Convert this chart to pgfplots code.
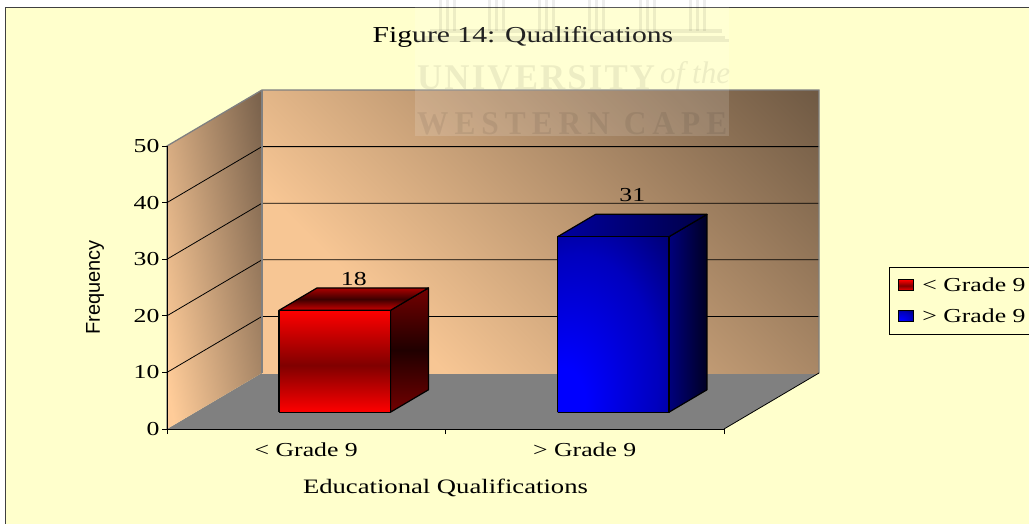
\documentclass[border=0pt]{standalone}
\usepackage{graphicx}
\usepackage{fontspec}
\setmainfont[FakeStretch=1.3]{Liberation Serif}
\setsansfont{Liberation Sans}
\usepackage{pgfplots}
\pgfplotsset{compat=1.18}
\definecolor{chartbg}{RGB}{255,255,204}
\definecolor{floorgray}{RGB}{128,128,128}
\definecolor{peach}{RGB}{247,198,148}
\definecolor{wallbrown}{RGB}{112,90,68}
\definecolor{leftpeach}{RGB}{255,204,153}
\definecolor{leftbrown}{RGB}{122,98,76}
\definecolor{rmid}{RGB}{128,0,0}
\definecolor{rsideend}{RGB}{115,0,0}
\definecolor{rsidemid}{RGB}{32,0,0}
\definecolor{rtopa}{RGB}{205,0,0}
\definecolor{rtopb}{RGB}{60,0,0}
\definecolor{rtopc}{RGB}{170,0,0}
\definecolor{bfa}{RGB}{0,0,255}
\definecolor{bfb}{RGB}{0,0,190}
\definecolor{bfc}{RGB}{0,0,118}
\definecolor{bsa}{RGB}{0,0,125}
\definecolor{bsb}{RGB}{0,0,35}
\definecolor{bta}{RGB}{0,0,160}
\definecolor{btb}{RGB}{0,0,70}
\pgfdeclareverticalshading{backwall}{100bp}{
  color(0bp)=(peach);color(30bp)=(peach);
  color(85bp)=(wallbrown);color(100bp)=(wallbrown)}
\pgfdeclareverticalshading{leftwall}{100bp}{
  color(0bp)=(leftpeach);color(24bp)=(leftpeach);
  color(78bp)=(leftbrown);color(100bp)=(leftbrown)}
\pgfdeclareverticalshading{redfront}{100bp}{
  color(0bp)=(red);color(25bp)=(red);
  color(48bp)=(rmid);
  color(75bp)=(red);color(100bp)=(red)}
\pgfdeclareverticalshading{redside}{100bp}{
  color(0bp)=(rsideend);color(25bp)=(rsideend);
  color(50bp)=(rsidemid);
  color(75bp)=(rsideend);color(100bp)=(rsideend)}
\pgfdeclareverticalshading{redtop}{100bp}{
  color(0bp)=(rtopa);color(25bp)=(rtopa);
  color(50bp)=(rtopb);
  color(75bp)=(rtopc);color(100bp)=(rtopc)}
\pgfdeclareradialshading{bluefront}{\pgfpoint{-25bp}{-25bp}}{
  color(0bp)=(bfa);color(10bp)=(bfa);
  color(36bp)=(bfb);
  color(52bp)=(bfc);color(100bp)=(bfc)}
\pgfdeclarehorizontalshading{blueside}{100bp}{
  color(0bp)=(bsa);color(25bp)=(bsa);
  color(75bp)=(bsb);color(100bp)=(bsb)}
\pgfdeclarehorizontalshading{bluetop}{100bp}{
  color(0bp)=(bta);color(25bp)=(bta);
  color(75bp)=(btb);color(100bp)=(btb)}
\begin{document}
\begin{tikzpicture}[x=1pt,y=1pt]
\useasboundingbox (0,0) rectangle (1029,523);
% page and chart area
\fill[white] (0,0) rectangle (1029,523);
\fill[chartbg] (5.5,-2) rectangle (1035,515);
\draw[black!75,line width=1pt] (5.5,-2) -- (5.5,515) -- (1035,515);
% ---- oblique plot box
\begin{axis}[
  at={(167pt,94pt)},anchor=origin,
  x={(278.5pt,0pt)},y={(95pt,56pt)},z={(0pt,5.66pt)},
  xmin=0,xmax=2,ymin=0,ymax=1,zmin=0,zmax=50,
  hide axis,clip=false]
% walls and floor
\addplot3[draw=none,fill=floorgray] coordinates {(0,0,0)(2,0,0)(2,1,0)(0,1,0)(0,0,0)};
\addplot3[draw=none,shading=backwall,shading angle=-45] coordinates {(0,1,0)(2,1,0)(2,1,50)(0,1,50)(0,1,0)};
\addplot3[draw=none,shading=leftwall,shading angle=-80] coordinates {(0,0,0)(0,1,0)(0,1,50)(0,0,50)(0,0,0)};
% grid lines
\addplot3[black,line width=0.8pt] coordinates {(0,0,10)(0,1,10)(2,1,10)};
\addplot3[black,line width=0.8pt] coordinates {(0,0,20)(0,1,20)(2,1,20)};
\addplot3[black,line width=0.8pt] coordinates {(0,0,30)(0,1,30)(2,1,30)};
\addplot3[black,line width=0.8pt] coordinates {(0,0,40)(0,1,40)(2,1,40)};
% wall edges
\addplot3[floorgray,line width=1.3pt] coordinates {(0,0,0)(0,0,50)(0,1,50)(2,1,50)(2,1,0)};
\addplot3[floorgray,line width=1.3pt] coordinates {(0,1,0)(0,1,50)};
\addplot3[black,line width=0.8pt] coordinates {(2,0,0)(2,1,0)};
% bar 1: value 18
\addplot3[black,line width=1.2pt,line join=round,shading=redside] coordinates {(0.7,0.3,0)(0.7,0.7,0)(0.7,0.7,18)(0.7,0.3,18)(0.7,0.3,0)};
\addplot3[black,line width=1.2pt,line join=round,shading=redtop] coordinates {(0.3,0.3,18)(0.7,0.3,18)(0.7,0.7,18)(0.3,0.7,18)(0.3,0.3,18)};
\addplot3[black,line width=1.2pt,line join=round,shading=redfront] coordinates {(0.3,0.3,0)(0.7,0.3,0)(0.7,0.3,18)(0.3,0.3,18)(0.3,0.3,0)};
% bar 2: value 31
\addplot3[black,line width=1.2pt,line join=round,shading=blueside] coordinates {(1.7,0.3,0)(1.7,0.7,0)(1.7,0.7,31)(1.7,0.3,31)(1.7,0.3,0)};
\addplot3[black,line width=1.2pt,line join=round,shading=bluetop] coordinates {(1.3,0.3,31)(1.7,0.3,31)(1.7,0.7,31)(1.3,0.7,31)(1.3,0.3,31)};
\addplot3[black,line width=1.2pt,line join=round,shading=bluefront] coordinates {(1.3,0.3,0)(1.7,0.3,0)(1.7,0.3,31)(1.3,0.3,31)(1.3,0.3,0)};
\node[font=\fontsize{19.8}{20}\selectfont,yshift=20pt] at (axis cs:0.5,0.5,18) {18};
\node[font=\fontsize{19.8}{20}\selectfont,yshift=30pt] at (axis cs:1.5,0.5,31) {31};
\end{axis}
% ---- axes, labels and legend
\begin{axis}[
  at={(167pt,94pt)},anchor=origin,
  x=278.5pt,y=5.66pt,
  xmin=0,xmax=2,ymin=0,ymax=50,
  axis x line*=bottom,axis y line*=left,
  axis line style={-,black,line width=1pt},
  xtick={0.5,1.5},xticklabels={{< Grade 9},{> Grade 9}},
  minor xtick={0,1,2},
  ytick={0,10,20,30,40,50},
  /pgf/number format/assume math mode=true,
  tick align=outside,
  major tick length=5pt,minor tick length=5pt,
  tick style={black,line width=0.8pt},
  xtick style={draw=none},
  minor x tick style={black,line width=0.8pt,draw=black},
  tick label style={font=\fontsize{19.8}{20}\selectfont},
  yticklabel style={xshift=1pt},
  xticklabel style={yshift=-5pt},
  title={Figure 14: Qualifications},
  title style={at={(axis description cs:0.639,1.364)},anchor=center,font=\fontsize{22.8}{24}\selectfont},
  xlabel={Educational Qualifications},
  xlabel style={at={(axis description cs:0.5,-0.208)},anchor=center,font=\fontsize{20.5}{22}\selectfont},
  ylabel={Frequency},
  ylabel style={at={(axis description cs:-0.129,0.5)},anchor=center,rotate=0,font=\sffamily\fontsize{20}{22}\selectfont},
  legend style={at={(1.296,0.572)},anchor=north west,draw=black,line width=1pt,fill=chartbg,
    font=\fontsize{19.8}{20}\selectfont,inner xsep=9pt,inner ysep=8pt,row sep=12pt,
    cells={anchor=west}},
  legend cell align=left,
  clip=false]
\addlegendimage{legend image code/.code={\draw[black,line width=1pt,shading=redfront] (0pt,-5.5pt) rectangle (15pt,5.5pt);}}
\addlegendentry{\hspace{6pt}< Grade 9}
\addlegendimage{legend image code/.code={\draw[black,line width=1pt,shading=bluefront] (0pt,-5.5pt) rectangle (15pt,5.5pt);}}
\addlegendentry{\hspace{6pt}> Grade 9}
\end{axis}
% ---- watermark over the chart
\fill[white,opacity=0.14] (415,387) rectangle (729,523);
\begin{scope}[opacity=0.07,black]
  \node[anchor=south west,inner sep=0pt] at (417,433) {\resizebox{238pt}{24pt}{\bfseries\addfontfeature{LetterSpace=8}UNIVERSITY}};
  \node[anchor=south west,inner sep=0pt] at (660,433) {\resizebox{70pt}{22pt}{\itshape of the}};
  \node[anchor=south west,inner sep=0pt] at (417,388) {\resizebox{310pt}{22pt}{\bfseries\addfontfeature{LetterSpace=25}WESTERN CAPE}};
  \foreach \cx in {448,497,547,597,648,698} {
    \fill (\cx-9,492) rectangle (\cx-6,523);
    \fill (\cx-2,492) rectangle (\cx+1,523);
    \fill (\cx+5,492) rectangle (\cx+8,523);
  }
  \fill (430,490) rectangle (722,494);
  \fill (423,484) rectangle (725,487);
  \fill (415,481) rectangle (729,484);
\end{scope}
\end{tikzpicture}
\end{document}
